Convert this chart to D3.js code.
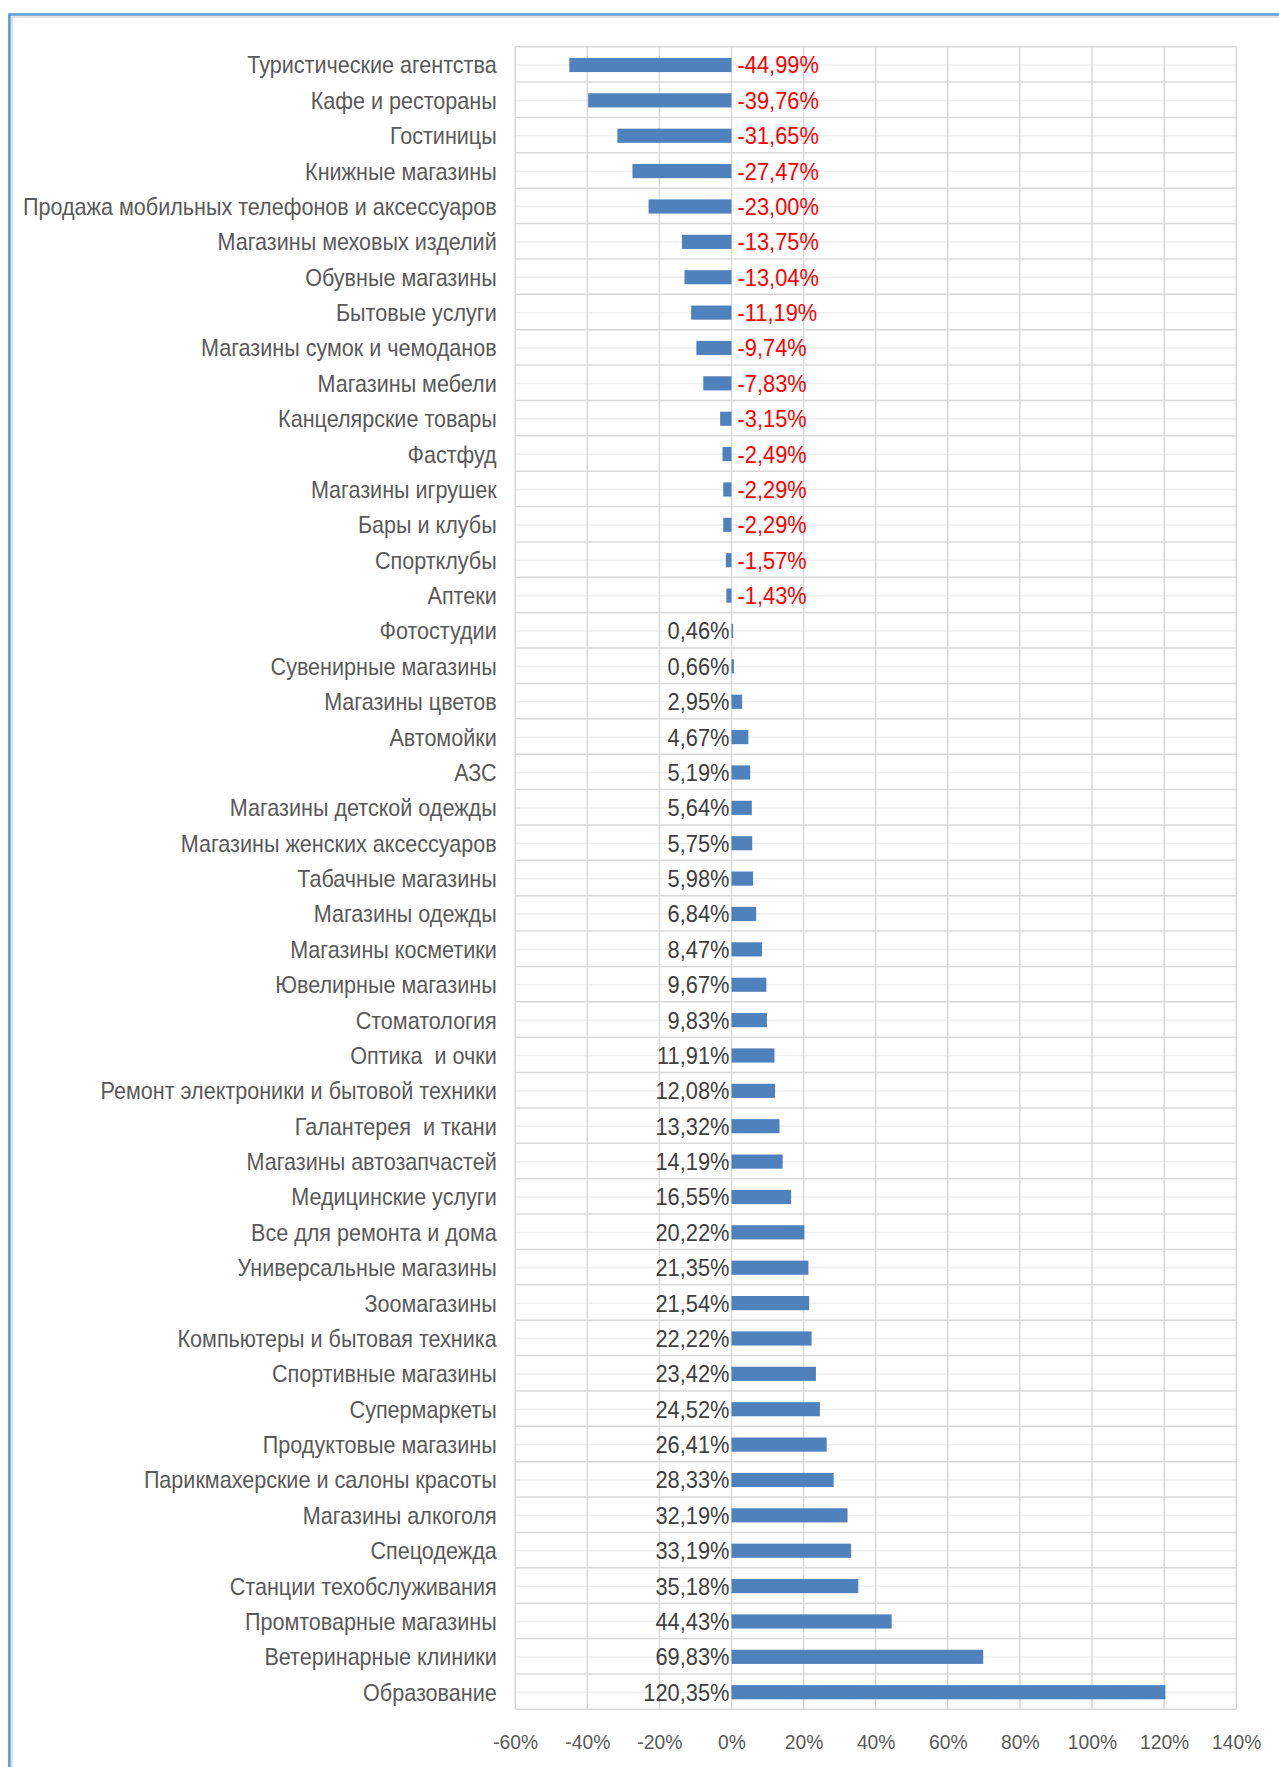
<!DOCTYPE html>
<html>
<head>
<meta charset="utf-8">
<script src="https://cdn.jsdelivr.net/npm/d3@7"></script>
<style>
  body { margin: 0; background: #fff; }
  svg { display: block; font-family: "Liberation Sans", Arial, sans-serif; }
</style>
</head>
<body>
<div id="chart"></div>
<script>
// data
var categories = [
  "Туристические агентства", "Кафе и рестораны", "Гостиницы", "Книжные магазины",
  "Продажа мобильных телефонов и аксессуаров", "Магазины меховых изделий", "Обувные магазины",
  "Бытовые услуги", "Магазины сумок и чемоданов", "Магазины мебели", "Канцелярские товары",
  "Фастфуд", "Магазины игрушек", "Бары и клубы", "Спортклубы", "Аптеки", "Фотостудии",
  "Сувенирные магазины", "Магазины цветов", "Автомойки", "АЗС", "Магазины детской одежды",
  "Магазины женских аксессуаров", "Табачные магазины", "Магазины одежды", "Магазины косметики",
  "Ювелирные магазины", "Стоматология", "Оптика  и очки", "Ремонт электроники и бытовой техники",
  "Галантерея  и ткани", "Магазины автозапчастей", "Медицинские услуги", "Все для ремонта и дома",
  "Универсальные магазины", "Зоомагазины", "Компьютеры и бытовая техника", "Спортивные магазины",
  "Супермаркеты", "Продуктовые магазины", "Парикмахерские и салоны красоты", "Магазины алкоголя",
  "Спецодежда", "Станции техобслуживания", "Промтоварные магазины", "Ветеринарные клиники",
  "Образование"
];
var values = [
  -44.99, -39.76, -31.65, -27.47, -23.00, -13.75, -13.04, -11.19, -9.74, -7.83, -3.15,
  -2.49, -2.29, -2.29, -1.57, -1.43, 0.46, 0.66, 2.95, 4.67, 5.19, 5.64, 5.75, 5.98,
  6.84, 8.47, 9.67, 9.83, 11.91, 12.08, 13.32, 14.19, 16.55, 20.22, 21.35, 21.54, 22.22,
  23.42, 24.52, 26.41, 28.33, 32.19, 33.19, 35.18, 44.43, 69.83, 120.35
];
var xTicks = [-60, -40, -20, 0, 20, 40, 60, 80, 100, 120, 140];

var data = categories.map(function(c, i) { return { name: c, value: values[i] }; });

// svg area
var svgWidth = 1279;
var svgHeight = 1767;
var plot = { left: 515.2, right: 1236.2, top: 46.7, bottom: 1709.3 };
var narrow = 0.938;   // the screenshot text is a bit condensed

var svg = d3.select("#chart")
    .append("svg")
    .attr("width", svgWidth)
    .attr("height", svgHeight);

// frame (blue border top + left, with soft grey shadow)
svg.append("path")
    .attr("d", "M12,1767 V17 H1279")
    .attr("fill", "none")
    .attr("stroke", "#d9d9d9")
    .attr("stroke-width", 1.5);
svg.append("path")
    .attr("d", "M9.4,1767 V14.5 H1279")
    .attr("fill", "none")
    .attr("stroke", "#5b9bd5")
    .attr("stroke-width", 2.6);

// scales
var xScale = d3.scaleLinear()
    .domain([-60, 140])
    .range([plot.left, plot.right]);

var yScale = d3.scaleBand()
    .domain(categories)
    .range([plot.top, plot.bottom])
    .padding(0);

var bw = yScale.bandwidth();
var barH = bw * 0.4;

// gridlines
var grid = svg.append("g").attr("class", "grid");

grid.selectAll("line.minor")
    .data(categories)
    .enter().append("line")
    .attr("class", "minor")
    .attr("x1", plot.left).attr("x2", plot.right)
    .attr("y1", function(d) { return yScale(d) + bw * 0.52; })
    .attr("y2", function(d) { return yScale(d) + bw * 0.52; })
    .attr("stroke", "#efefef")
    .attr("stroke-width", 1.5);

grid.selectAll("line.major")
    .data(categories.concat(["__end"]))
    .enter().append("line")
    .attr("class", "major")
    .attr("x1", plot.left).attr("x2", plot.right)
    .attr("y1", function(d, i) { return plot.top + i * bw; })
    .attr("y2", function(d, i) { return plot.top + i * bw; })
    .attr("stroke", "#d9d9d9")
    .attr("stroke-width", 1.5);

grid.selectAll("line.vert")
    .data(xTicks)
    .enter().append("line")
    .attr("class", "vert")
    .attr("x1", function(d) { return xScale(d); })
    .attr("x2", function(d) { return xScale(d); })
    .attr("y1", plot.top).attr("y2", plot.bottom)
    .attr("stroke", "#d9d9d9")
    .attr("stroke-width", 1.5);

// bars
svg.append("g").selectAll("rect")
    .data(data)
    .enter().append("rect")
    .attr("x", function(d) { return xScale(Math.min(0, d.value)); })
    .attr("width", function(d) { return Math.abs(xScale(d.value) - xScale(0)); })
    .attr("y", function(d) { return yScale(d.name) + (bw - barH) / 2 + 0.6; })
    .attr("height", barH)
    .attr("fill", "#4f81bd");

// category labels
svg.append("g").selectAll("text")
    .data(data)
    .enter().append("text")
    .attr("transform", function(d) {
        return "translate(" + (plot.left - 18.5) + "," + (yScale(d.name) + bw / 2 + 1) + ") scale(" + narrow + ",1)";
    })
    .attr("dy", "0.35em")
    .attr("text-anchor", "end")
    .attr("font-size", 23)
    .attr("fill", "#595959")
    .style("white-space", "pre")
    .text(function(d) { return d.name; });

// value labels
function fmt(v) { return v.toFixed(2).replace(".", ",") + "%"; }

svg.append("g").selectAll("text")
    .data(data)
    .enter().append("text")
    .attr("transform", function(d) {
        var x = d.value < 0 ? xScale(0) + 6 : xScale(0) - 2;
        return "translate(" + x + "," + (yScale(d.name) + bw / 2 + 1) + ") scale(0.95,1)";
    })
    .attr("dy", "0.35em")
    .attr("text-anchor", function(d) { return d.value < 0 ? "start" : "end"; })
    .attr("font-size", 23)
    .attr("fill", function(d) { return d.value < 0 ? "#ff0000" : "#404040"; })
    .text(function(d) { return fmt(d.value); });

// x axis
var xAxis = d3.axisBottom(xScale)
    .tickValues(xTicks)
    .tickSize(0)
    .tickPadding(0)
    .tickFormat(function(d) { return d + "%"; });

var gx = svg.append("g")
    .attr("class", "xAxis")
    .attr("transform", "translate(0," + (plot.bottom + 32) + ")")
    .call(xAxis);

gx.select(".domain").remove();
gx.selectAll("text")
    .attr("dy", "0.35em")
    .attr("font-size", 21)
    .attr("font-family", "Liberation Sans, Arial, sans-serif")
    .attr("fill", "#595959")
    .attr("x", 0)
    .attr("transform", "scale(0.92,1)");
</script>
</body>
</html>
